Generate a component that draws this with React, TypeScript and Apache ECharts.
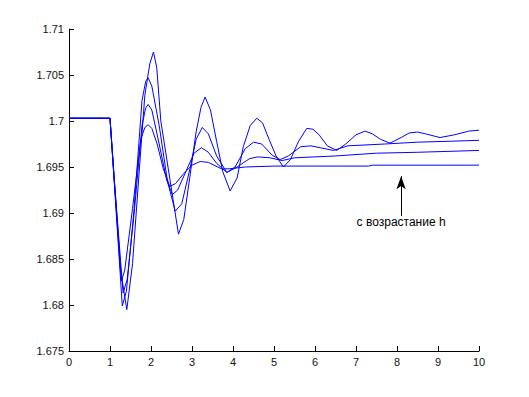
import React, { useEffect, useRef } from "react";
import * as echarts from "echarts";

// Time / value pairs for the four curves (smallest h to largest h)
const t1 = [0, 1.0, 1.1, 1.28, 1.36, 1.55, 1.75, 1.85, 1.93, 2.02, 2.15, 2.3, 2.46, 2.6, 2.8, 3.0, 3.2, 3.4, 3.72, 3.9, 4.3, 5.0, 7.3, 7.4, 10];
const v1 = [1.7003, 1.7003, 1.694, 1.6826, 1.6838, 1.6905, 1.698, 1.6993, 1.6996, 1.6992, 1.6975, 1.6948, 1.6929, 1.6932, 1.6943, 1.6952, 1.6956, 1.6955, 1.6948, 1.6948, 1.695, 1.6951, 1.6951, 1.6952, 1.6952];

const t2 = [0, 1.0, 1.1, 1.32, 1.42, 1.6, 1.78, 1.87, 1.93, 2.02, 2.2, 2.38, 2.52, 2.65, 2.85, 3.05, 3.23, 3.4, 3.6, 3.85, 4.1, 4.4, 4.6, 4.9, 5.2, 5.5, 6.5, 7.5, 8.5, 10];
const v2 = [1.7003, 1.7003, 1.6938, 1.6813, 1.6828, 1.6905, 1.6995, 1.7014, 1.7018, 1.7012, 1.6975, 1.6936, 1.692, 1.6925, 1.6945, 1.6965, 1.6971, 1.6966, 1.6954, 1.6944, 1.695, 1.6959, 1.6961, 1.696, 1.6957, 1.696, 1.6962, 1.6965, 1.6966, 1.6968];

const t3 = [0, 1.0, 1.1, 1.3, 1.4, 1.58, 1.78, 1.87, 1.93, 2.02, 2.2, 2.4, 2.59, 2.75, 2.95, 3.1, 3.25, 3.4, 3.6, 3.85, 4.05, 4.3, 4.5, 4.7, 4.95, 5.15, 5.35, 5.65, 5.9, 6.45, 6.8, 7.7, 8.5, 9.3, 10];
const v3 = [1.7003, 1.7003, 1.6936, 1.6799, 1.6815, 1.69, 1.7022, 1.7043, 1.7047, 1.7038, 1.6995, 1.6935, 1.6902, 1.691, 1.6948, 1.698, 1.6993, 1.6986, 1.6962, 1.6944, 1.695, 1.697, 1.6977, 1.6975, 1.6963, 1.6958, 1.6962, 1.6972, 1.6973, 1.6968, 1.6973, 1.6975, 1.6977, 1.6978, 1.6979];

const t4 = [0, 1.0, 1.1, 1.25, 1.41, 1.55, 1.72, 1.85, 1.97, 2.06, 2.14, 2.24, 2.46, 2.67, 2.8, 2.95, 3.1, 3.22, 3.32, 3.45, 3.6, 3.75, 3.93, 4.1, 4.25, 4.42, 4.58, 4.72, 4.88, 5.05, 5.23, 5.4, 5.6, 5.8, 5.95, 6.1, 6.3, 6.53, 6.75, 7.0, 7.22, 7.4, 7.6, 7.83, 8.1, 8.3, 8.5, 8.7, 9.05, 9.4, 9.75, 10];
const v4 = [1.7003, 1.7003, 1.6938, 1.684, 1.6795, 1.6845, 1.695, 1.7028, 1.7062, 1.7075, 1.7058, 1.7, 1.6937, 1.6877, 1.6893, 1.694, 1.6988, 1.7015, 1.7026, 1.7012, 1.6978, 1.6945, 1.6924, 1.6938, 1.6972, 1.6995, 1.7003, 1.6998, 1.698, 1.6962, 1.695, 1.6958, 1.6978, 1.6992, 1.6991, 1.6985, 1.6973, 1.6968, 1.6975, 1.6985, 1.6989, 1.6986, 1.698, 1.6976, 1.6982, 1.6987, 1.6988, 1.6986, 1.6982, 1.6985, 1.6989, 1.699];

// Annotation (arrow) in data coordinates
const arrowX = 8.1;
const arrowFrom = 1.6897;
const arrowTo = 1.694;
const arrowText = "с возрастание h";

const xTicks = { min: 0, max: 10, interval: 1 };
const yTicks = { min: 1.675, max: 1.71, interval: 0.005 };

const zip = (t: number[], v: number[]) => t.map((x, i) => [x, v[i]]);

export default function App() {
  const ref = useRef<HTMLDivElement>(null);
  useEffect(() => {
    if (!ref.current) return;
    const chart = echarts.init(ref.current, null, { renderer: "svg" });
    const font = "Liberation Sans, Arial, sans-serif";
    const lineStyle = { color: "#0000ff", width: 1 };
    const mk = (t: number[], v: number[], extra: any = {}) => ({
      type: "line",
      data: zip(t, v),
      showSymbol: false,
      symbol: "none",
      lineStyle,
      itemStyle: { color: "#0000ff" },
      smooth: false,
      silent: true,
      ...extra,
    });
    chart.setOption({
      animation: false,
      backgroundColor: "#ffffff",
      grid: { left: 69, right: 50, top: 29, bottom: 46, containLabel: false },
      xAxis: {
        type: "value",
        ...xTicks,
        axisLine: { show: true, lineStyle: { color: "#000", width: 1 } },
        axisTick: { show: true, inside: true, length: 5, lineStyle: { color: "#000" } },
        axisLabel: { color: "#111", fontSize: 11, fontFamily: font, margin: 5 },
        splitLine: { show: false },
      },
      yAxis: {
        type: "value",
        ...yTicks,
        axisLine: { show: true, lineStyle: { color: "#000", width: 1 } },
        axisTick: { show: true, inside: true, length: 5, lineStyle: { color: "#000" } },
        axisLabel: {
          color: "#111",
          fontSize: 11,
          fontFamily: font,
          margin: 5,
          formatter: (v: number) => String(parseFloat(v.toFixed(3))),
        },
        splitLine: { show: false },
      },
      series: [
        mk(t1, v1, {
          markLine: {
            silent: true,
            symbol: ["none", "arrow"],
            symbolSize: [7, 13],
            lineStyle: { color: "#000", width: 1, type: "solid" },
            label: {
              show: true,
              position: "start",
              formatter: arrowText,
              color: "#000",
              fontSize: 12,
              fontFamily: font,
              distance: 0,
            },
            data: [[{ coord: [arrowX, arrowFrom] }, { coord: [arrowX, arrowTo] }]],
          },
        }),
        mk(t2, v2),
        mk(t3, v3),
        mk(t4, v4),
      ],
    });
    return () => chart.dispose();
  }, []);
  return <div ref={ref} style={{ width: 529, height: 397, position: "absolute", left: 0, top: 0 }} />;
}
